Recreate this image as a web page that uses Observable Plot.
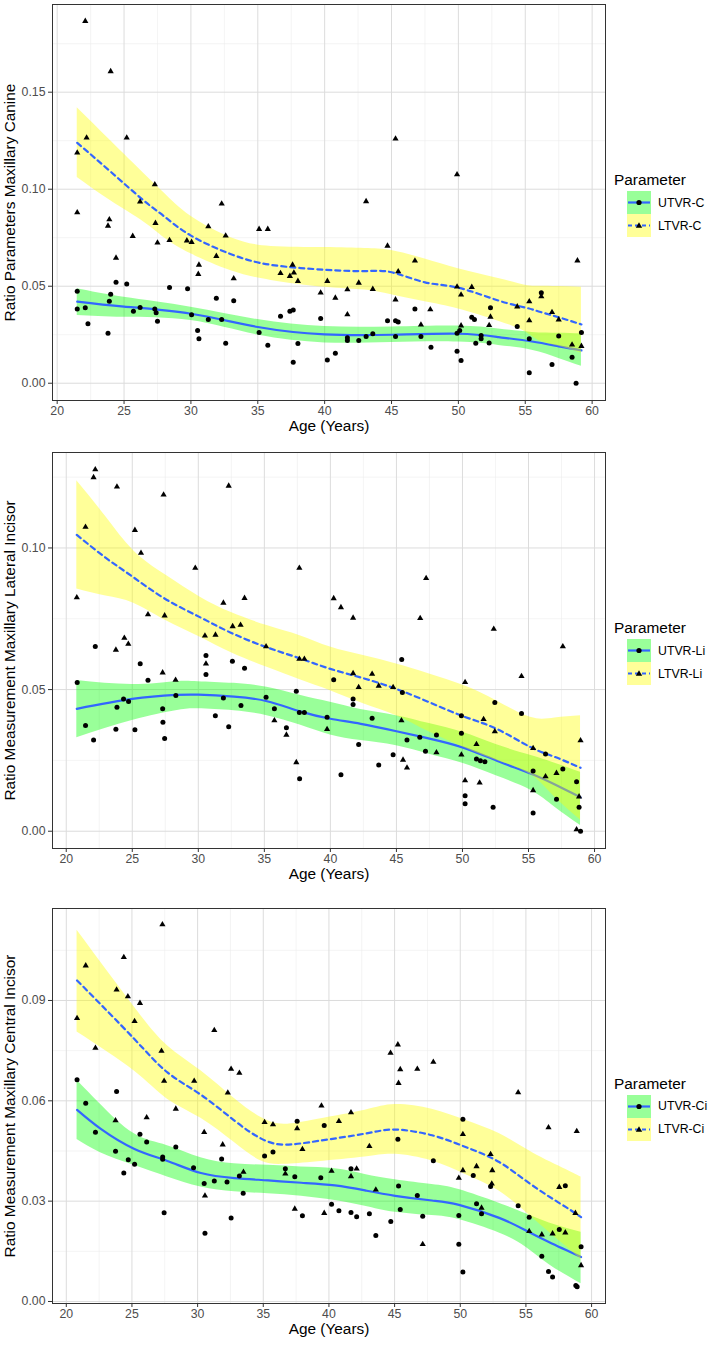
<!DOCTYPE html>
<html>
<head>
<meta charset="utf-8">
<script src="https://cdn.jsdelivr.net/npm/d3@7"></script>
<script src="https://cdn.jsdelivr.net/npm/@observablehq/plot@0.6"></script>
<style>
  body { margin: 0; background: white; font-family: "Liberation Sans", Arial, sans-serif; }
  #wrap { position: relative; width: 709px; height: 1345px; overflow: hidden; }
  .panel { position: absolute; left: 0; width: 709px; }
  .legend { position: absolute; left: 614px; font-family: "Liberation Sans", Arial, sans-serif; }
  .ltitle { font-size: 15.4px; color: #000; height: 22px; line-height: 22px; }
  .item { display: flex; align-items: center; height: 23px; }
  .item svg { display: block; margin-left: 13px; }
  .item span { font-size: 12.3px; color: #000; margin-left: 7px; }
</style>
</head>
<body>
<div id="wrap"></div>
<script>
// ---------- Panel 1: Maxillary Canine ----------
const canineUTVR = [[21.5,0.0474],[21.5,0.0383],[22.1,0.0389],[22.3,0.0306],[23.8,0.0258],[23.9,0.0423],[24.0,0.0459],[24.4,0.0521],[25.2,0.0512],[25.7,0.0371],[26.2,0.039],[27.3,0.0383],[27.4,0.0363],[27.5,0.032],[28.4,0.0493],[29.75,0.0487],[30.05,0.0353],[30.5,0.0272],[30.6,0.0229],[31.3,0.0328],[31.9,0.0438],[32.3,0.0328],[32.6,0.0206],[33.2,0.0425],[35.1,0.0261],[35.75,0.0196],[36.7,0.0345],[37.4,0.0371],[37.65,0.0378],[37.65,0.0108],[38.0,0.0205],[39.7,0.0333],[40.2,0.012],[40.8,0.0155],[41.7,0.0234],[41.7,0.022],[42.55,0.022],[43.1,0.0241],[43.6,0.0255],[44.7,0.0322],[45.3,0.0322],[45.5,0.0315],[45.3,0.0241],[46.75,0.0383],[47.2,0.0241],[47.95,0.0186],[49.9,0.0165],[49.9,0.0258],[50.1,0.0272],[50.2,0.0117],[51.0,0.034],[51.2,0.0328],[51.3,0.0206],[51.7,0.0246],[51.7,0.0229],[52.3,0.0208],[52.4,0.0389],[54.4,0.0292],[55.3,0.0229],[55.3,0.0054],[56.2,0.0466],[57.0,0.0096],[57.5,0.0244],[58.5,0.0134],[58.8,0.0],[59.2,0.0261]];
const canineLTVR = [[22.1,0.1866],[24.0,0.1607],[21.5,0.1188],[22.2,0.1265],[25.2,0.1265],[21.5,0.088],[27.3,0.1024],[26.2,0.0935],[32.3,0.0925],[23.9,0.0844],[23.8,0.0811],[27.35,0.0825],[31.3,0.0808],[35.1,0.0794],[35.75,0.0794],[25.65,0.0758],[27.5,0.0724],[28.4,0.0737],[29.7,0.0735],[30.05,0.0727],[32.6,0.076],[24.4,0.0646],[30.6,0.061],[30.55,0.0562],[31.9,0.0655],[33.2,0.054],[37.6,0.061],[36.7,0.0567],[37.4,0.0552],[37.7,0.0569],[38.0,0.0526],[39.7,0.0466],[40.2,0.0526],[40.8,0.044],[41.7,0.0483],[41.7,0.0354],[42.55,0.0517],[43.1,0.0937],[45.3,0.126],[49.9,0.1076],[44.7,0.0708],[46.75,0.0631],[45.5,0.0576],[43.6,0.0485],[45.3,0.0431],[47.9,0.038],[47.2,0.0301],[49.9,0.0497],[51.0,0.0495],[50.2,0.0456],[50.2,0.0297],[52.4,0.0342],[52.3,0.0299],[54.4,0.0395],[55.3,0.0421],[55.3,0.0323],[56.2,0.0447],[57.0,0.0366],[57.5,0.0328],[58.9,0.0632],[58.5,0.0198],[59.2,0.0191]];
// smooth fits: [age, fit, lower, upper]
const canineUTVRFit = [[21.5,0.0421,0.0349,0.0487],[25,0.0395,0.0340,0.0443],[30,0.0358,0.0323,0.0392],[35,0.0290,0.0248,0.0328],[40,0.0252,0.0208,0.0292],[45,0.0250,0.0210,0.0290],[50,0.0255,0.0212,0.0295],[53,0.0238,0.0195,0.0280],[55.5,0.0215,0.0170,0.0262],[57.5,0.0190,0.0128,0.0258],[59.2,0.0169,0.0088,0.0255]];
const canineLTVRFit = [[21.5,0.1239,0.1060,0.1420],[24,0.1090,0.0940,0.1250],[26.5,0.0940,0.0830,0.1080],[28,0.0860,0.0750,0.0980],[30,0.0761,0.0667,0.0860],[33,0.0665,0.0580,0.0750],[36,0.0610,0.0530,0.0705],[40,0.0585,0.0495,0.0700],[43,0.0578,0.0480,0.0695],[45,0.0572,0.0456,0.0684],[47.5,0.0520,0.0420,0.0640],[50,0.0492,0.0383,0.0590],[53,0.0426,0.0320,0.0540],[55,0.0390,0.0265,0.0505],[56,0.0370,0.0220,0.0500],[57.5,0.0340,0.0190,0.0498],[59.2,0.0303,0.0155,0.0495]];

// ---------- Panel 2: Maxillary Lateral Incisor ----------
const lateralUTVR = [[22.2,0.0652],[25.6,0.0591],[26.19,0.0533],[30.58,0.062],[30.58,0.0553],[32.58,0.06],[33.5,0.0575],[20.83,0.0525],[28.3,0.0479],[24.34,0.0467],[24.72,0.0458],[23.84,0.0438],[27.3,0.0432],[31.9,0.047],[33.23,0.0444],[35.13,0.0473],[35.76,0.0432],[37.42,0.0494],[37.65,0.0419],[38.03,0.0419],[40.25,0.0535],[39.75,0.0402],[27.32,0.0385],[31.29,0.0408],[21.46,0.0373],[23.76,0.036],[25.2,0.0358],[32.3,0.0369],[22.07,0.0322],[27.45,0.0327],[36.67,0.0365],[37.67,0.0185],[40.8,0.0199],[41.72,0.0467],[41.72,0.0447],[42.14,0.0306],[45.4,0.0606],[45.45,0.049],[52.45,0.0454],[54.47,0.0416],[49.92,0.0408],[43.16,0.0399],[49.92,0.0346],[46.77,0.0332],[48.03,0.034],[45.8,0.0322],[56.29,0.0273],[47.2,0.0282],[44.75,0.027],[51.06,0.0255],[51.36,0.0249],[51.7,0.0245],[43.66,0.0234],[55.35,0.0213],[57.6,0.022],[58.64,0.0175],[50.2,0.0125],[50.2,0.0097],[52.32,0.0085],[55.35,0.0064],[57.12,0.0113],[58.83,0.0085],[58.94,0.0]];
const lateralLTVR = [[22.2,0.1277],[22.07,0.1249],[23.84,0.1216],[27.37,0.1188],[32.3,0.1219],[21.46,0.1074],[25.2,0.1063],[25.66,0.0982],[20.8,0.0825],[29.77,0.0929],[37.65,0.0929],[33.5,0.0823],[31.9,0.0806],[40.25,0.0822],[40.8,0.079],[41.72,0.0753],[26.19,0.0765],[27.45,0.0761],[32.6,0.0723],[33.2,0.0728],[30.5,0.069],[31.3,0.0693],[24.4,0.0682],[24.7,0.0661],[23.76,0.064],[35.13,0.0652],[37.65,0.0608],[38.03,0.0608],[30.58,0.0591],[47.25,0.0893],[46.8,0.0752],[52.37,0.0714],[57.6,0.0652],[27.3,0.056],[28.28,0.0534],[35.76,0.0391],[36.67,0.034],[39.75,0.036],[37.42,0.0243],[41.72,0.0557],[42.14,0.0508],[54.47,0.0547],[43.16,0.0555],[43.66,0.0513],[44.75,0.0508],[50.2,0.0526],[51.6,0.0395],[45.38,0.0391],[52.45,0.0352],[51.06,0.0307],[55.35,0.0293],[58.94,0.032],[48.03,0.0278],[49.92,0.027],[45.5,0.0252],[45.8,0.0224],[56.29,0.0193],[57.12,0.0205],[50.2,0.0179],[51.3,0.0171],[55.35,0.0144],[58.83,0.0122],[58.64,0.0006]];
const lateralUTVRFit = [[20.8,0.0432,0.0330,0.0532],[25,0.0467,0.0391,0.0518],[28.3,0.0481,0.0425,0.0528],[30,0.0482,0.0432,0.0528],[32.7,0.0475,0.0425,0.0522],[35.2,0.0459,0.0408,0.0508],[37.7,0.0423,0.0375,0.0480],[40,0.0397,0.0340,0.0455],[42.3,0.0379,0.0320,0.0430],[45,0.0353,0.0302,0.0408],[47.5,0.0327,0.0272,0.0380],[50,0.0296,0.0240,0.0349],[52.6,0.0249,0.0195,0.0305],[55.2,0.0203,0.0144,0.0267],[57,0.0165,0.0085,0.0240],[58.94,0.0120,0.0020,0.0208]];
const lateralLTVRFit = [[20.8,0.1046,0.0855,0.1237],[23,0.0965,0.0830,0.1110],[25.1,0.0896,0.0805,0.0990],[27.5,0.0820,0.0745,0.0905],[30.15,0.0755,0.0685,0.0826],[32.5,0.0700,0.0630,0.0772],[35.2,0.0649,0.0579,0.0726],[37.7,0.0610,0.0535,0.0690],[40,0.0573,0.0496,0.0650],[42.5,0.0540,0.0450,0.0620],[45,0.0502,0.0408,0.0590],[47.5,0.0455,0.0350,0.0555],[50.1,0.0405,0.0296,0.0514],[52.6,0.0361,0.0250,0.0460],[55.15,0.0297,0.0200,0.0402],[57,0.0262,0.0120,0.0400],[58.94,0.0224,0.0040,0.0408]];

// ---------- Panel 3: Maxillary Central Incisor ----------
const centralUTVR = [[20.82,0.0663],[23.83,0.0628],[21.48,0.0593],[22.22,0.0506],[23.75,0.0449],[24.72,0.0424],[24.38,0.0384],[25.2,0.041],[25.61,0.05],[26.12,0.0477],[27.34,0.0432],[27.34,0.0425],[28.34,0.0462],[27.45,0.0265],[29.69,0.04],[30.5,0.0353],[31.27,0.036],[30.56,0.0204],[31.83,0.0426],[32.24,0.0357],[32.55,0.025],[33.18,0.0375],[33.47,0.0324],[35.1,0.0435],[35.74,0.0447],[36.68,0.0397],[37.4,0.0373],[37.58,0.0539],[37.98,0.0256],[39.38,0.037],[39.64,0.0526],[40.2,0.0291],[40.76,0.0271],[41.68,0.0397],[41.68,0.0266],[42.11,0.0253],[43.08,0.0262],[43.57,0.0197],[45.25,0.0485],[45.3,0.0345],[45.43,0.0275],[44.71,0.0239],[46.73,0.0317],[47.14,0.0255],[47.95,0.0421],[50.2,0.0545],[49.89,0.0257],[49.89,0.0171],[50.2,0.0088],[50.99,0.0377],[51.24,0.0292],[51.62,0.0262],[52.31,0.0344],[54.41,0.0286],[55.25,0.0252],[56.21,0.0135],[56.72,0.009],[57.03,0.0073],[58.0,0.0346],[57.54,0.0215],[59.2,0.0164],[58.8,0.0048],[58.9,0.0044]];
const centralLTVR = [[27.32,0.1127],[24.38,0.1029],[21.48,0.1004],[23.83,0.0932],[24.69,0.0912],[25.61,0.0892],[20.82,0.0847],[25.2,0.0838],[31.27,0.0811],[22.22,0.0758],[27.25,0.0749],[32.55,0.0695],[33.18,0.0683],[27.45,0.0659],[29.74,0.0659],[32.3,0.0624],[28.34,0.0576],[39.43,0.0585],[45.25,0.0768],[44.69,0.0743],[45.43,0.0694],[46.73,0.0695],[47.95,0.0716],[45.3,0.0653],[54.41,0.0625],[23.75,0.0541],[26.12,0.055],[30.5,0.0506],[30.56,0.0316],[31.91,0.0469],[33.49,0.0387],[35.1,0.0536],[35.74,0.0529],[37.58,0.0517],[37.98,0.0455],[36.68,0.0382],[37.4,0.0277],[39.64,0.0264],[40.2,0.039],[40.76,0.0539],[41.68,0.0565],[41.68,0.0374],[42.11,0.0397],[43.08,0.0464],[43.57,0.0334],[47.14,0.0171],[50.2,0.05],[50.2,0.0392],[49.89,0.0369],[51.24,0.0404],[51.62,0.028],[52.31,0.044],[52.44,0.0392],[52.4,0.0352],[55.25,0.021],[56.21,0.02],[56.72,0.052],[57.03,0.0203],[57.54,0.0342],[58.0,0.0206],[58.87,0.0509],[58.77,0.0264],[59.2,0.0108]];
const centralUTVRFit = [[20.82,0.0573,0.0484,0.0661],[22.6,0.0517,0.0445,0.0590],[25.15,0.0457,0.0407,0.0502],[27.7,0.0420,0.0372,0.0466],[30.25,0.0384,0.0342,0.0430],[32.8,0.0369,0.0328,0.0412],[35.36,0.0362,0.0322,0.0407],[37.9,0.0355,0.0315,0.0402],[40.45,0.0347,0.0302,0.0397],[42.75,0.0332,0.0285,0.0380],[45.04,0.0316,0.0267,0.0364],[47.85,0.0302,0.0257,0.0350],[49.9,0.0289,0.0245,0.0335],[52.96,0.0250,0.0205,0.0294],[55,0.0212,0.0162,0.0262],[56.78,0.0177,0.0110,0.0235],[59.2,0.0133,0.0053,0.0207]];
const centralLTVRFit = [[20.82,0.0960,0.0806,0.1110],[25.15,0.0786,0.0690,0.0882],[27.7,0.0685,0.0605,0.0765],[30.25,0.0618,0.0548,0.0690],[32.8,0.0541,0.0475,0.0607],[34.84,0.0487,0.0420,0.0550],[36.6,0.0469,0.0410,0.0530],[39.18,0.0480,0.0418,0.0545],[42.75,0.0502,0.0432,0.0572],[45.04,0.0514,0.0440,0.0589],[47.85,0.0497,0.0420,0.0575],[50.4,0.0462,0.0380,0.0542],[52.96,0.0417,0.0330,0.0502],[55.5,0.0347,0.0250,0.0445],[58.05,0.0282,0.0165,0.0395],[59.2,0.0252,0.0125,0.0372]];

// axis ticks
const ageTicks = [20, 25, 30, 35, 40, 45, 50, 55, 60];
const ageMinor = [22.5, 27.5, 32.5, 37.5, 42.5, 47.5, 52.5, 57.5];
const canineTicks = [0, 0.05, 0.10, 0.15];
const canineMinor = [0.025, 0.075, 0.125, 0.175];
const lateralTicks = [0, 0.05, 0.10];
const lateralMinor = [0.025, 0.075, 0.125];
const centralTicks = [0, 0.03, 0.06, 0.09];
const centralMinor = [0.015, 0.045, 0.075, 0.105];

const xLabel = "Age (Years)";
const legendTitle = "Parameter";

const FONT = "'Liberation Sans', Arial, sans-serif";
const CURVE = "natural";
const wrap = document.getElementById("wrap");

function keySvg(fill, dashed, symbol) {
  const mark = symbol === "circle"
    ? `<circle cx="12" cy="11.5" r="2.6" fill="black"/>`
    : `<path d="M12,8.3 L15.2,13.8 L8.8,13.8 Z" fill="black"/>`;
  return `<svg width="24" height="23"><rect x="0" y="0" width="24" height="23" fill="${fill}" fill-opacity="0.4"/>` +
    `<line x1="1" x2="23" y1="11.5" y2="11.5" stroke="#3366FF" stroke-width="2.2" ${dashed ? 'stroke-dasharray="4,3"' : ''}/>` + mark + `</svg>`;
}

function panel(cfg) {
  const div = document.createElement("div");
  div.className = "panel";
  div.style.top = cfg.top + "px";
  const X = d => d[0], Y = d => d[1], LO = d => d[2], HI = d => d[3];
  const chart = Plot.plot({
    width: 709,
    height: cfg.height,
    marginLeft: 52,
    marginRight: 104,
    marginTop: cfg.mt,
    marginBottom: cfg.mb,
    style: {fontFamily: FONT, background: "white"},
    x: {domain: cfg.xDomain},
    y: {domain: cfg.yDomain},
    marks: [
      Plot.gridX(ageMinor, {stroke: "#ececec", strokeOpacity: 1, strokeWidth: 0.6}),
      Plot.gridY(cfg.yMinor, {stroke: "#ececec", strokeOpacity: 1, strokeWidth: 0.6}),
      Plot.gridX(ageTicks, {stroke: "#dcdcdc", strokeOpacity: 1, strokeWidth: 1}),
      Plot.gridY(cfg.yTicks, {stroke: "#dcdcdc", strokeOpacity: 1, strokeWidth: 1}),
      Plot.areaY(cfg.uFit, {x: X, y1: LO, y2: HI, fill: "#00ff00", fillOpacity: 0.4, curve: CURVE}),
      Plot.line(cfg.uFit, {x: X, y: Y, stroke: "#3366FF", strokeWidth: 2.2, curve: CURVE}),
      Plot.areaY(cfg.lFit, {x: X, y1: LO, y2: HI, fill: "#ffff00", fillOpacity: 0.4, curve: CURVE}),
      Plot.line(cfg.lFit, {x: X, y: Y, stroke: "#3366FF", strokeWidth: 2.2, strokeDasharray: "5,4", curve: CURVE}),
      Plot.dot(cfg.u, {x: X, y: Y, symbol: "circle", r: 2.5, fill: "black"}),
      Plot.dot(cfg.l, {x: X, y: Y, symbol: "triangle", r: 2.3, fill: "black"}),
      Plot.frame({stroke: "#333333", strokeWidth: 1}),
      Plot.axisX({ticks: ageTicks, tickSize: 4, tickPadding: 2, fontSize: 12.3, stroke: "#333333", fill: "#4d4d4d", label: null}),
      Plot.axisY({ticks: cfg.yTicks, tickFormat: d3.format(".2f"), tickSize: 4, tickPadding: 3, fontSize: 12.3, stroke: "#333333", fill: "#4d4d4d", label: null}),
      Plot.text([xLabel], {frameAnchor: "bottom", dy: 30, fontSize: 15.4, fill: "black"}),
      Plot.text([cfg.ylab], {frameAnchor: "left", dx: -42, rotate: -90, textAnchor: "middle", fontSize: 15.4, fill: "black"})
    ]
  });
  div.appendChild(chart);
  wrap.appendChild(div);

  const center = cfg.top + cfg.mt + (cfg.height - cfg.mt - cfg.mb) / 2;
  const leg = document.createElement("div");
  leg.className = "legend";
  leg.style.top = (center - 33) + "px";
  leg.innerHTML = `<div class="ltitle">${legendTitle}</div>` +
    `<div class="item">${keySvg("#00ff00", false, "circle")}<span>${cfg.keys[0]}</span></div>` +
    `<div class="item">${keySvg("#ffff00", true, "triangle")}<span>${cfg.keys[1]}</span></div>`;
  wrap.appendChild(leg);
}

panel({top: 0, height: 448, mt: 4, mb: 48, xDomain: [19.65, 61.0], yDomain: [-0.0089, 0.1952],
  yTicks: canineTicks, yMinor: canineMinor, u: canineUTVR, l: canineLTVR, uFit: canineUTVRFit, lFit: canineLTVRFit,
  ylab: "Ratio Parameters Maxillary Canine", keys: ["UTVR-C", "LTVR-C"]});
panel({top: 448, height: 448, mt: 4, mb: 48, xDomain: [18.96, 60.83], yDomain: [-0.0061, 0.1337],
  yTicks: lateralTicks, yMinor: lateralMinor, u: lateralUTVR, l: lateralLTVR, uFit: lateralUTVRFit, lFit: lateralLTVRFit,
  ylab: "Ratio Measurement Maxillary Lateral Incisor", keys: ["UTVR-Li", "LTVR-Li"]});
panel({top: 896, height: 449, mt: 12, mb: 42, xDomain: [18.95, 61.06], yDomain: [-0.0006, 0.1175],
  yTicks: centralTicks, yMinor: centralMinor, u: centralUTVR, l: centralLTVR, uFit: centralUTVRFit, lFit: centralLTVRFit,
  ylab: "Ratio Measurement Maxillary Central Incisor", keys: ["UTVR-Ci", "LTVR-Ci"]});
</script>
</body>
</html>
